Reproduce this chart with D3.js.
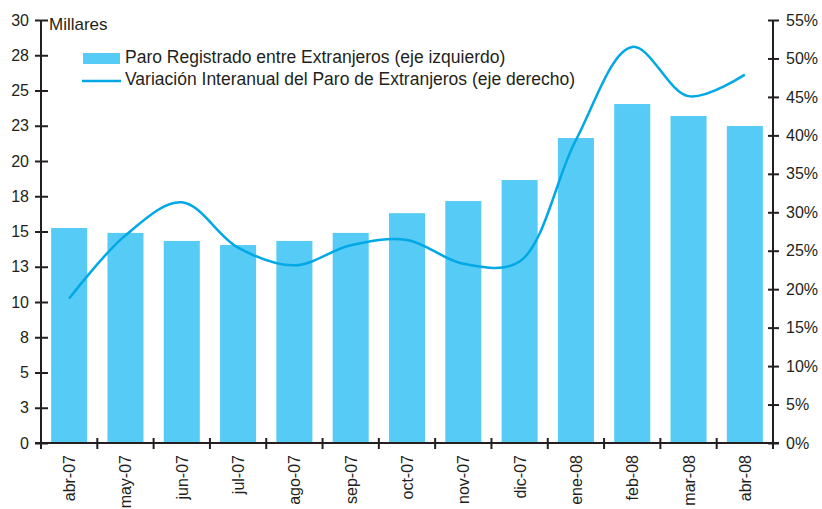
<!DOCTYPE html>
<html>
<head>
<meta charset="utf-8">
<script src="https://cdn.jsdelivr.net/npm/d3@7"></script>
<style>
  body { margin: 0; background: #fff; }
  svg { font-family: "Liberation Sans", Arial, sans-serif; }
  .axis path, .axis line { stroke: #231f20; stroke-width: 2; }
  .axis text { fill: #231f20; font-size: 16px; }
</style>
</head>
<body>
<div id="graph"></div>
<script>
var months = ['abr-07','may-07','jun-07','jul-07','ago-07','sep-07','oct-07',
              'nov-07','dic-07','ene-08','feb-08','mar-08','abr-08']
var paro = [15.25, 14.9, 14.33, 14.04, 14.33, 14.9, 16.3, 17.16, 18.65, 21.63, 24.04, 23.19, 22.48]
var variacion = [18.8, 27.0, 31.3, 25.4, 23.1, 25.7, 26.4, 23.3, 23.6, 39.4, 51.5, 45.1, 47.9]

var leftTicks = [0, 2.5, 5, 7.5, 10, 12.5, 15, 17.5, 20, 22.5, 25, 27.5, 30]
var leftTickLabels = ['0','3','5','8','10','13','15','18','20','23','25','28','30']
var rightTicks = [0, 5, 10, 15, 20, 25, 30, 35, 40, 45, 50, 55]

var barColor = '#56cbf5', lineColor = '#00a8e6'

var W = 822, H = 509
var m = {left: 41, right: 49, top: 20, bottom: 66}

var svg = d3.select('#graph').append('svg').attr('width', W).attr('height', H)

var x = d3.scaleBand().domain(months).range([m.left, W - m.right]).paddingInner(0.36).paddingOuter(0.18)
var yL = d3.scaleLinear().domain([0, 30]).range([H - m.bottom, m.top])
var yR = d3.scaleLinear().domain([0, 55]).range([H - m.bottom, m.top])

svg.selectAll('rect.bar').data(paro).enter().append('rect')
    .attr('class', 'bar')
    .attr('x', function(d, i){ return x(months[i]) })
    .attr('width', x.bandwidth())
    .attr('y', function(d){ return yL(d) })
    .attr('height', function(d){ return yL(0) - yL(d) })
    .attr('fill', barColor)

var line = d3.line()
    .x(function(d, i){ return x(months[i]) + x.bandwidth() / 2 })
    .y(function(d){ return yR(d) })
    .curve(d3.curveCatmullRom.alpha(0.5))

svg.append('path').datum(variacion)
    .attr('d', line)
    .attr('fill', 'none')
    .attr('stroke', lineColor)
    .attr('stroke-width', 2.5)

// left axis
var gL = svg.append('g').attr('class', 'axis').attr('transform', 'translate(' + m.left + ',0)')
  .call(d3.axisLeft(yL).tickValues(leftTicks).tickSize(6).tickPadding(4)
    .tickFormat(function(d, i){ return leftTickLabels[i] }))
gL.select('.domain').attr('d', 'M0,' + (yL(0) + 1) + 'V' + yL(30))
gL.selectAll('.tick line').attr('x1', -6).attr('x2', 7)
gL.selectAll('.tick text').attr('x', -12)

// right axis
var gR = svg.append('g').attr('class', 'axis').attr('transform', 'translate(' + (W - m.right) + ',0)')
  .call(d3.axisRight(yR).tickValues(rightTicks).tickSize(6).tickPadding(4)
    .tickFormat(function(d){ return d + '%' }))
gR.select('.domain').attr('d', 'M0,' + (yR(0) + 1) + 'V' + yR(55))
gR.selectAll('.tick line').attr('x1', -5).attr('x2', 6)
gR.selectAll('.tick text').attr('x', 13)

// bottom axis, ticks at category boundaries
var gB = svg.append('g').attr('class', 'axis').attr('transform', 'translate(0,' + yL(0) + ')')
gB.append('line').attr('x1', m.left - 6).attr('x2', W - m.right + 6)
var bounds = d3.range(months.length + 1).map(function(i){ return m.left + (W - m.left - m.right) * i / months.length })
gB.selectAll('line.tk').data(bounds).enter().append('line')
    .attr('class', 'tk')
    .attr('x1', function(d){ return d }).attr('x2', function(d){ return d })
    .attr('y1', -5).attr('y2', 6)
gB.selectAll('text').data(months).enter().append('text')
    .attr('transform', function(d){ return 'translate(' + (x(d) + x.bandwidth() / 2 + 6) + ',12) rotate(-90)' })
    .attr('text-anchor', 'end')
    .text(function(d){ return d })

svg.append('text')
    .attr('x', m.left + 8).attr('y', yL(30) + 10)
    .attr('font-size', 17).attr('fill', '#231f20')
    .text('Millares')

// legend
var legend = svg.append('g').attr('transform', 'translate(83,0)')
legend.append('rect').attr('x', 0).attr('y', 53).attr('width', 37).attr('height', 11).attr('fill', barColor)
legend.append('text').attr('x', 42).attr('y', 63).attr('font-size', 17.5).attr('fill', '#231f20')
    .text('Paro Registrado entre Extranjeros (eje izquierdo)')
legend.append('line').attr('x1', -1).attr('x2', 38).attr('y1', 81).attr('y2', 81)
    .attr('stroke', lineColor).attr('stroke-width', 2.5)
legend.append('text').attr('x', 42).attr('y', 85).attr('font-size', 17.5).attr('fill', '#231f20')
    .text('Variación Interanual del Paro de Extranjeros (eje derecho)')
</script>
</body>
</html>
